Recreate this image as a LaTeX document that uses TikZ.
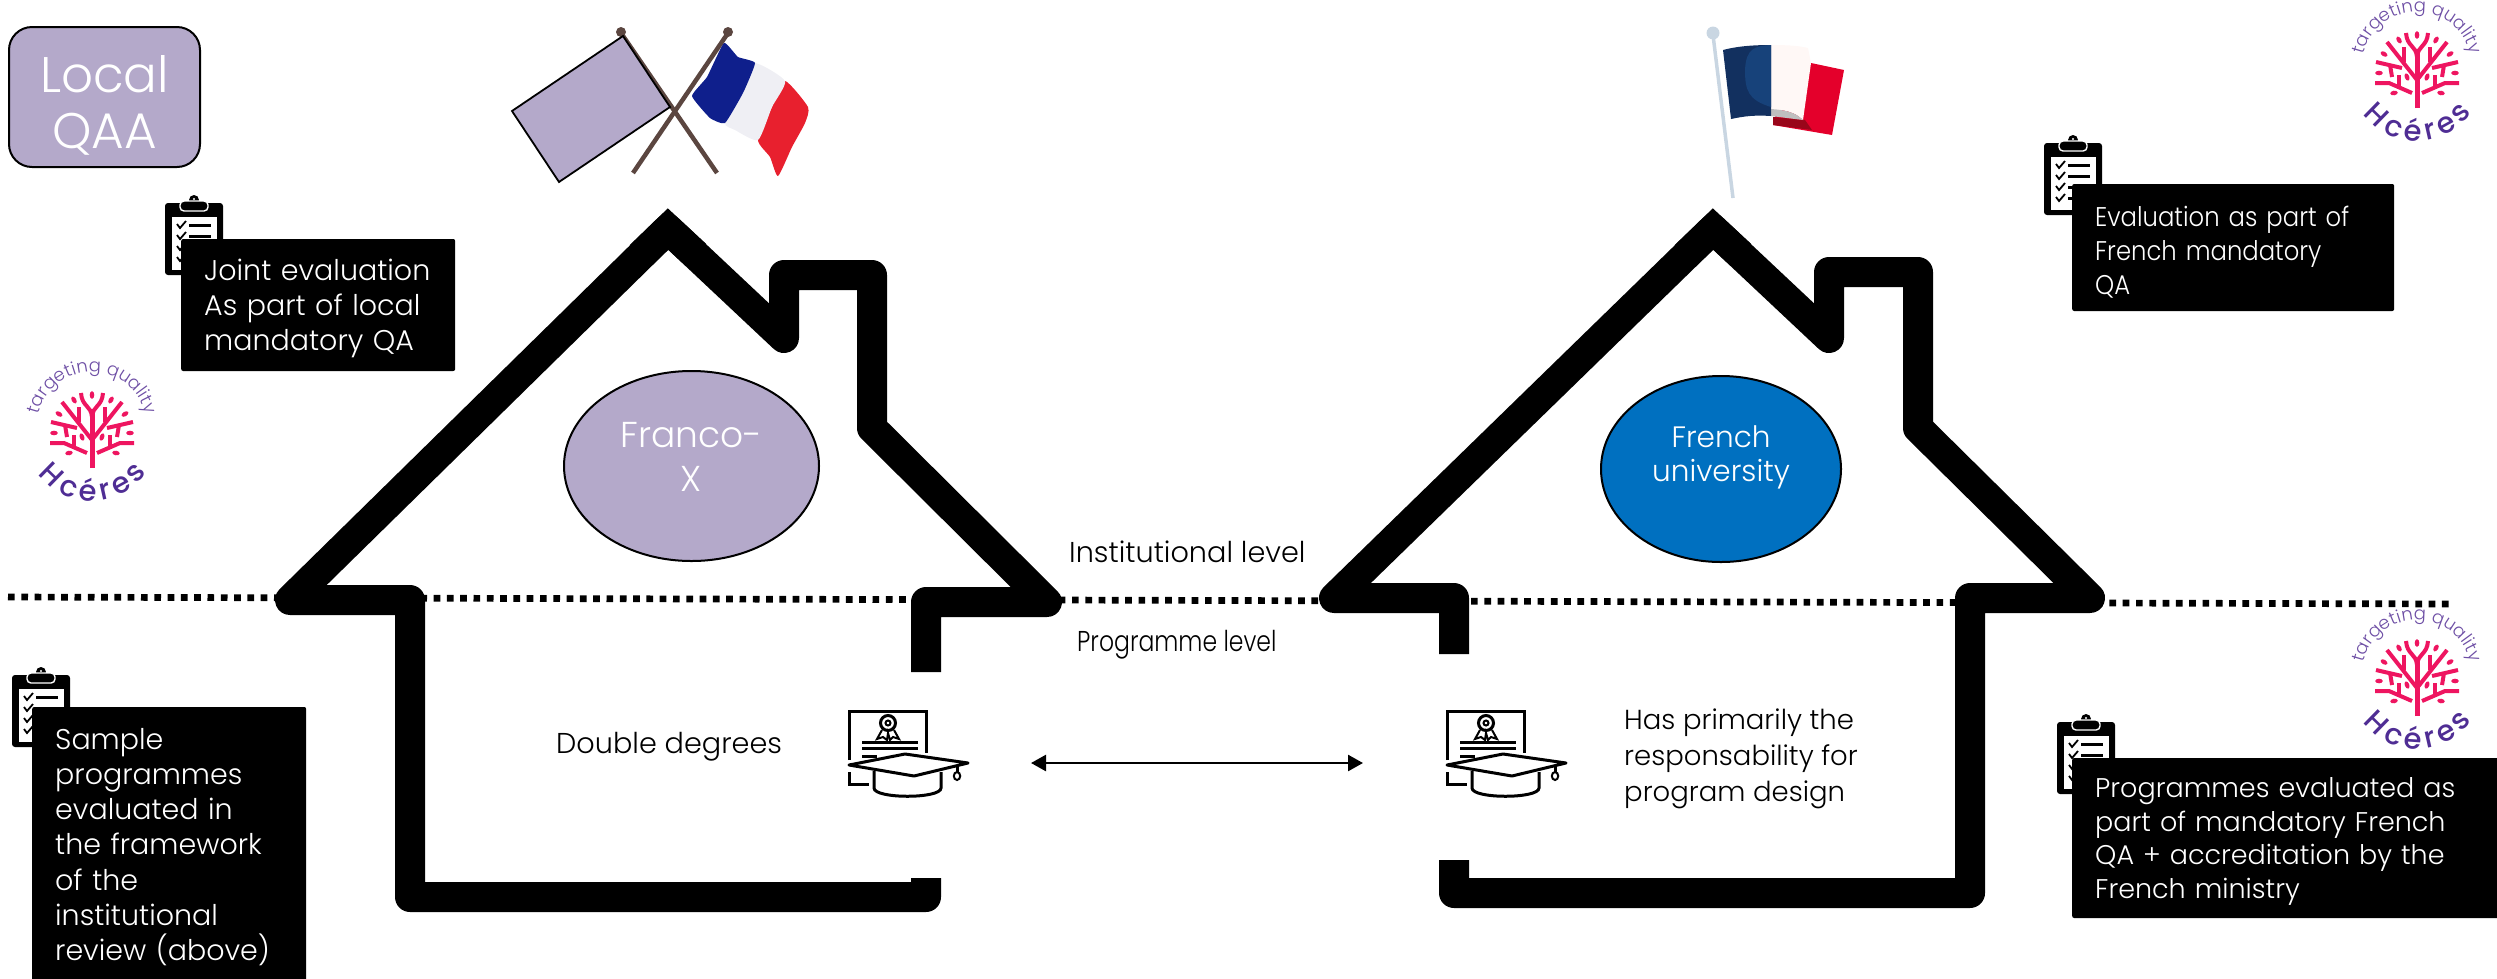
\documentclass[tikz,border=0pt]{standalone}
\usepackage{fontspec}
\setmainfont{Poppins}[UprightFont=* Light, BoldFont=* Medium]
\newfontfamily\hcefont{Poppins}[UprightFont=* Medium]
\newfontfamily\narrowfont{Poppins}[UprightFont=* Light,FakeStretch=0.9]
\newfontfamily\narrowerfont{Poppins}[UprightFont=* Light,FakeStretch=0.82]
\usetikzlibrary{shapes.geometric,arrows.meta,decorations.text}
\definecolor{qaa}{HTML}{B4A9CA}
\definecolor{uni}{HTML}{0070C0}
\definecolor{logored}{HTML}{EE1560}
\definecolor{logopur}{HTML}{4F2D94}
\definecolor{logolil}{HTML}{6E4FA5}
\definecolor{pole}{HTML}{5B4640}
\definecolor{fblue}{HTML}{0F1F8C}
\definecolor{fwhite}{HTML}{EFEFF4}
\definecolor{fred}{HTML}{E8202E}
\definecolor{navy}{HTML}{12305F}
\definecolor{navyl}{HTML}{17427A}
\definecolor{sred}{HTML}{E4002B}
\definecolor{sdark}{HTML}{99061A}
\definecolor{swhite}{HTML}{FFF8F6}
\definecolor{spole}{HTML}{C9D6E2}
\tikzset{
  wall/.style={line width=30pt,line join=round,line cap=butt,draw=black},
  blackbox/.style={fill=black,text=white,rounded corners=2pt,anchor=west,align=left,inner xsep=23pt,inner ysep=0pt,font=\fontsize{27}{35}\selectfont},
  plain/.style={text=black,anchor=base west,inner sep=0pt,font=\fontsize{28.7}{36}\selectfont,align=left},
  ico/.style={line width=3pt,draw=black},
  clipboard/.pic={
    \fill[black,rounded corners=3pt] (0,0) rectangle (58,72);
    \fill[white] (7,14) rectangle (52,67);
    \fill[black] (29,-3) circle (5);
    \fill[white] (29,-4) circle (1.2);
    \draw[white,fill=black,line width=1.4pt,rounded corners=4pt] (15,-2) rectangle (43,8);
    \foreach \r in {22,33,44,55}{
      \draw[black,line width=1.8pt] (12,\r-1) -- (15,\r+3) -- (21,\r-4);
      \draw[black,line width=3pt] (24,\r) -- (46,\r);
    }
  },
  degree/.pic={
    \draw[ico] (0,49) -- (0,0) -- (77,0) -- (77,42);
    \draw[ico] (0,61) -- (0,73) -- (20,73);
    \draw[ico] (39,12) circle (7.5);
    \draw[line width=2pt] (39,12) circle (2.5);
    \draw[line width=2pt] (33,19) -- (28,28) -- (34,26) -- (38,29) -- (39,22) -- (41,29) -- (44,26) -- (50,28) -- (45,19);
    \draw[ico] (13,31) -- (69,31);
    \draw[ico] (13,37) -- (69,37);
    \draw[ico] (13,45) -- (28,45);
    \filldraw[ico,fill=white,line join=round] (0,54) -- (56,43) -- (119,52) -- (65,65) -- cycle;
    \draw[ico] (25,60) -- (25,77) .. controls (25,88) and (92,88) .. (92,77) -- (92,61);
    \draw[ico] (108,55) -- (108,61);
    \draw[line width=2pt] (108,65) ellipse (3.2 and 4);
  },
  hceres/.pic={
    \foreach \s in {-1,1}{
      \begin{scope}[logored,line width=4pt]
      \draw ({\s*11},-36) .. controls ({\s*10},-22) and ({\s*1},-24) .. (0,-12);
      \draw (0,11) -- ({\s*30},-27);
      \draw ({\s*13},-7) -- ({\s*13},-22);
      \draw ({\s*41},-7) -- ({\s*15},-1);
      \draw ({\s*27},-4) -- ({\s*25},8);
      \draw ({\s*42},14) -- ({\s*28},14) -- ({\s*5},24);
      \draw ({\s*18},6) -- ({\s*18},17);
      \end{scope}
    }
    \draw[logored,line width=5pt] (0,39) -- (0,-19);
    \foreach \x/\y/\a in {0/-34/90,-18/-29/120,19/-29/60,-33/-15/150,33/-15/30,-38/4/0,38/4/0,-10/8/110,10/8/70,-23/24/10,24/24/170}{
      \fill[logored,shift={(\x,\y)},rotate=\a] (0,0) ellipse (3.8 and 2.3);
    }
    \path[decorate,decoration={text along path,text align=center,text={|\fontsize{18}{18}\selectfont\color{logolil}|targeting quality}}] (0,-2) ++(178:55) arc (178:362:55);
    \foreach \c/\a in {H/134.3,c/113.2,é/93.8,r/77.4,e/61,s/42.8}{
      \path (0,4) ++(\a:68) node[anchor=base,inner sep=0pt,rotate={90-\a},text=logopur,font=\fontsize{29}{29}\hcefont] {\c};
    }
  },
}
\begin{document}
\begin{tikzpicture}[x=1pt,y=-1pt]
\useasboundingbox (0,0) rectangle (2497,978);
% dotted level line
\coordinate (dotL) at (8,597);
\coordinate (dotR) at (2453,604);
\draw[line width=6.7pt,dash pattern=on 6.7pt off 6.6pt] (dotL) -- (dotR);
% left house
\draw[wall] (926,878) -- (926,897) -- (410,897) -- (410,600) -- (290,600) -- (668,229) -- (784,338) -- (784,275) -- (872,275) -- (872,428) -- (1047,602) -- (926,602) -- (926,672);
\draw[wall,line join=miter] (640,256) -- (668,229) -- (696,255);
% right house
\draw[wall] (1454,860) -- (1454,893) -- (1970,893) -- (1970,598) -- (2090,598) -- (1918,428) -- (1918,272) -- (1829,272) -- (1829,338) -- (1713,229) -- (1334,598) -- (1454,598) -- (1454,654);
\draw[wall,line join=miter] (1685,256) -- (1713,229) -- (1741,255);
% ellipses
\node[ellipse,draw=black,line width=2pt,fill=qaa,minimum width=255pt,minimum height=190pt,inner sep=0pt] (fx) at (691.5,466) {};
\node[ellipse,draw=black,line width=2pt,fill=uni,minimum width=240pt,minimum height=186pt,inner sep=0pt] (fu) at (1721,469) {};
\node[text=white,inner sep=0pt,align=center,font=\fontsize{36}{44}\selectfont] (fxt) at ([yshift=9pt]fx.center) {Franco-\\X};
\node[text=white,inner sep=0pt,align=center,font=\fontsize{29.5}{34}\selectfont] (fut) at ([yshift=12pt]fu.center) {French\\university};
% local QAA
\node[draw=black,line width=2pt,fill=qaa,rounded corners=23pt,minimum width=191pt,minimum height=140pt,inner sep=0pt] (qaa) at (104.5,97) {};
\node[text=white,inner sep=0pt,align=center,font=\fontsize{50}{56}\selectfont] (qaat) at ([yshift=-8pt]qaa.center) {Local\\QAA};
% crossed flags
\draw[pole,line width=4.5pt] (621,33) -- (717,173);
\draw[pole,line width=4.5pt] (728,33) -- (633,173);
\fill[pole] (621,32) circle (5);
\fill[pole] (728,32) circle (5);
\draw[black,line width=1.8pt,fill=qaa] (623,36) -- (670,107) -- (559,182) -- (512,111) -- cycle;
\fill[fred] plot[smooth cycle,tension=.35] coordinates {(785,81) (808,107) (805,123) (792,147) (778,176) (770,157) (758,140) (772,107)};
\fill[fwhite] plot[smooth cycle,tension=.35] coordinates {(754,63) (785,81) (772,107) (758,140) (735,130) (725,123) (743,93)};
\fill[fblue] plot[smooth cycle,tension=.25] coordinates {(724,43) (738,57) (755,63) (743,93) (725,123) (710,118) (692,96) (707,77)};
% single flag
\draw[spole,line width=3.5pt] (1713,35) -- (1733,198);
\fill[spole] (1713,33) circle (6.5);
\fill[sred] (1811,63) -- (1844,70) -- (1832,135) -- (1773,125) -- (1775,117) -- cycle;
\fill[sdark] (1773,117) -- (1805,120) -- (1812,130) -- (1773,125) -- cycle;
\fill[swhite] (1771,45) .. controls (1790,45) and (1800,46) .. (1808,48) -- (1811,63) -- (1803,120) .. controls (1795,112) and (1785,110) .. (1771,109) -- cycle;
\fill[gray!50] (1771,109) .. controls (1785,110) and (1795,112) .. (1803,120) -- (1771,116) -- cycle;
\fill[navy] (1723,50) .. controls (1738,46) and (1755,45) .. (1771,45) -- (1771,116) .. controls (1755,115) and (1745,116) .. (1731,119) -- cycle;
\fill[navyl] (1771,45) .. controls (1755,46) and (1746,48) .. (1745,70) .. controls (1745,90) and (1748,100) .. (1771,107) -- cycle;
% clipboards
\pic at (165,203) {clipboard};
\pic at (2044,143) {clipboard};
\pic at (12,675) {clipboard};
\pic at (2057,722) {clipboard};
% black text boxes
\node[blackbox,text width=228pt,minimum height=132pt,font=\fontsize{28.5}{35}\selectfont] (boxA) at (181,305) {\rule{0pt}{29pt}Joint evaluation\\As part of local\\mandatory QA};
\node[blackbox,text width=276pt,minimum height=127pt,font=\fontsize{27}{34}\narrowfont] (boxB) at (2072,247.5) {\rule{0pt}{29pt}Evaluation as part of\\French mandatory\\QA};
\node[blackbox,text width=228pt,minimum height=280pt,font=\fontsize{28.5}{35.1}\selectfont] (boxC) at (32,847) {Sample\\programmes\\evaluated in\\the framework\\of the\\institutional\\review (above)};
\node[blackbox,text width=400pt,minimum height=160pt,font=\fontsize{27}{33.7}\selectfont] (boxD) at (2072,838) {\rule{0pt}{27pt}Programmes evaluated as\\part of mandatory French\\QA + accreditation by the\\French ministry};
% plain labels
\node[plain] (lvlI) at (1069,562) {Institutional level};
\node[plain,font=\fontsize{28.7}{36}\narrowerfont] (lvlP) at (1077,651) {Programme level};
\node[plain] (dbl) at (556,753) {Double degrees};
\node[plain,font=\fontsize{27.5}{36}\selectfont] (resp) at (1624,801) {Has primarily the\\responsability for\\program design};
% degree icons
\pic at (849,711) {degree};
\pic at (1447,711) {degree};
% arrow
\coordinate (arrL) at (1031,763);
\coordinate (arrR) at (1363,763);
\draw[line width=2.5pt,{Triangle[length=15pt,width=16pt]}-{Triangle[length=15pt,width=16pt]}] (arrL) -- (arrR);
% logos
\pic at (92,429) {hceres};
\pic at (2417,69) {hceres};
\pic at (2417,677) {hceres};
\end{tikzpicture}
\end{document}
